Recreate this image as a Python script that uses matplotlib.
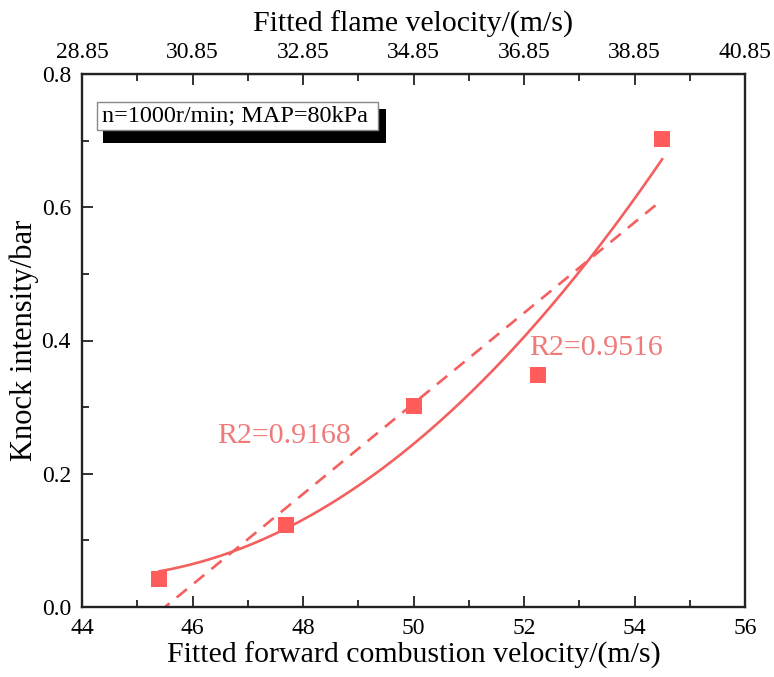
import numpy as np
import matplotlib.pyplot as plt
from matplotlib.patches import Rectangle

plt.rcParams['font.family'] = ['Liberation Serif', 'DejaVu Serif']

# data
velocity = [45.4, 47.7, 50.0, 52.25, 54.5]
knock = [0.042, 0.123, 0.301, 0.348, 0.703]
r2_linear = "R2=0.9168"
r2_quad = "R2=0.9516"
flame_offset = 15.15  # top axis = bottom axis - offset
condition = "n=1000r/min; MAP=80kPa"

red = '#FF5C5C'
line_red = '#F45F5F'

fig = plt.figure(figsize=(7.74, 6.77), dpi=100)
ax = fig.add_axes([82 / 774, 70 / 677, 663 / 774, 533 / 677])

# fits
xs = np.linspace(min(velocity), max(velocity), 200)
quad = np.polyval(np.polyfit(velocity, knock, 2), xs)
lin = np.polyval(np.polyfit(velocity, knock, 1), xs)

ax.plot(xs, quad, color=line_red, lw=1.9, zorder=2)
ax.plot(xs, lin, color=line_red, lw=1.9, ls=(0, (5, 3.5)), zorder=2)
ax.scatter(velocity, knock, marker='s', s=135, color=red, zorder=3, linewidths=0)

ax.text(46.45, 0.257, r2_linear, color='#F07A7A', fontsize=21.5, va='center')
ax.text(52.1, 0.388, r2_quad, color='#F07A7A', fontsize=21.5, va='center')

ax.set_xlim(44, 56)
ax.set_ylim(0, 0.8)
ax.set_xticks(np.arange(44, 57, 2))
ax.set_xticks(np.arange(45, 56, 2), minor=True)
ax.set_yticks([0.0, 0.2, 0.4, 0.6, 0.8])
ax.set_yticks([0.1, 0.3, 0.5, 0.7], minor=True)
ax.yaxis.set_major_formatter(plt.FormatStrFormatter('%.1f'))
ax.tick_params(which='both', direction='in', right=False, top=False,
               labelsize=17, width=1.3, color='#222222', pad=8)
ax.tick_params(which='major', length=8)
ax.tick_params(which='minor', length=5)
for s in ax.spines.values():
    s.set_linewidth(1.7)
    s.set_color('#222222')

ax.set_xlabel("Fitted forward combustion velocity/(m/s)", fontsize=21.5, labelpad=2)
ax.set_ylabel("Knock intensity/bar", fontsize=22, labelpad=2)

top = ax.secondary_xaxis('top', functions=(lambda x: x - flame_offset,
                                           lambda x: x + flame_offset))
top.set_xticks([28.85 + 2 * k for k in range(7)])
top.set_xticks([29.85 + 2 * k for k in range(6)], minor=True)
top.xaxis.set_major_formatter(plt.FormatStrFormatter('%.2f'))
top.tick_params(which='both', direction='in', labelsize=17, width=1.3,
                color='#222222', pad=8)
top.tick_params(which='major', length=8)
top.tick_params(which='minor', length=5)
top.set_xlabel("Fitted flame velocity/(m/s)", fontsize=21.5, labelpad=7)

# condition box with shadow
tr = ax.transAxes
ax.add_patch(Rectangle((0.032, 0.870), 0.427, 0.064, transform=tr,
                       facecolor='black', edgecolor='none', zorder=4))
ax.add_patch(Rectangle((0.023, 0.895), 0.423, 0.053, transform=tr,
                       facecolor='white', edgecolor='#888888', lw=1, zorder=5))
ax.text(0.030, 0.921, condition, transform=tr, fontsize=17.5, va='center',
        ha='left', zorder=6)

fig.savefig('out.png', dpi=100)
